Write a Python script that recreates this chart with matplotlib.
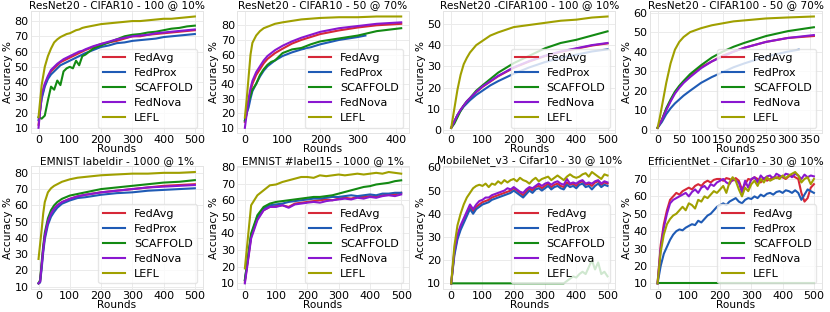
import numpy as np
import matplotlib
matplotlib.use("Agg")
import matplotlib.pyplot as plt
from matplotlib.ticker import MultipleLocator

methods = ["FedAvg", "FedProx", "SCAFFOLD", "FedNova", "LEFL"]
colors = ["#d62838", "#1f5bb5", "#138a13", "#8a17d0", "#a0a000"]

titles = ["ResNet20 - CIFAR10 - 100 @ 10%", "ResNet20 - CIFAR10 - 50 @ 70%",
          "ResNet20 -CIFAR100 - 100 @ 10%", "ResNet20 - CIFAR100 - 50 @ 70%",
          "EMNIST labeldir - 1000 @ 1%", "EMNIST #label15 - 1000 @ 1%",
          "MobileNet_v3 - Cifar10 - 30 @ 10%", "EfficientNet - Cifar10 - 30 @ 10%"]
xsteps = [100, 100, 100, 50, 100, 100, 100, 100]

# ---- panel 1: ResNet20 CIFAR10 100 @ 10%
x1 = [0, 10, 20, 30, 40, 50, 60, 70, 80, 90, 100, 110, 120, 130, 140, 150, 175, 200,
      225, 250, 275, 300, 325, 350, 375, 400, 425, 450, 475, 500]
p1_fedavg = [12, 30, 38, 43, 47, 49, 51, 53, 54, 55, 56, 57, 58, 59, 60, 61, 63, 65,
             66, 67, 68.5, 70, 70, 71, 71.5, 72, 72.5, 73, 73.5, 74]
p1_fedprox = [15, 29, 37, 42, 45, 47, 49, 51, 52, 53, 54, 55, 56, 57, 58, 59, 61, 63,
              64, 65.5, 66, 67, 67.5, 68, 68.5, 69.5, 70, 70.5, 71, 71.5]
p1_scaffold = [17, 16, 18, 28, 37, 35, 41, 38, 47, 49, 50, 49, 54, 51, 57, 58, 62, 64,
               66, 68, 70, 71, 71.5, 72.5, 73, 74, 75, 75.5, 76.5, 77]
p1_fednova = [10, 32, 39, 44, 48, 50, 52, 53.5, 55, 56, 57, 58, 59, 60, 60.5, 61.5, 63.5, 65,
              66.5, 68, 69, 70, 70.5, 71, 72, 72.5, 73, 73.5, 74, 74.5]
p1_lefl = [17, 38, 50, 57, 62, 66, 68, 69.5, 70.5, 71.5, 72, 73, 74, 74.5, 75.5, 76, 77, 78,
           78.5, 79, 79.5, 80, 80, 80.5, 81, 81.5, 81.5, 82, 82.5, 83]

# ---- panel 2: ResNet20 CIFAR10 50 @ 70%
x2 = [0, 5, 10, 15, 20, 30, 40, 50, 60, 70, 80, 100, 125, 150, 175, 200, 250, 300, 350, 415]
x2_prox = [0, 5, 10, 15, 20, 30, 40, 50, 60, 70, 80, 100, 125, 150, 175, 200, 250, 300, 320]
p2_fedavg = [14, 20, 28, 35, 40, 46, 50, 54, 57, 59, 61, 64, 67.5, 70, 72, 74, 76.5, 78.5, 80, 81]
p2_fedprox = [15, 20, 24, 30, 35, 40, 45, 49, 52, 54, 56, 59, 61.5, 63.5, 65, 67, 70, 72, 73]
p2_scaffold = [15, 22, 28, 32, 36, 40, 46, 50, 53, 55, 56, 61, 63.5, 64.5, 67, 69, 71, 73, 76, 78]
p2_fednova = [10, 20, 30, 37, 42, 48, 52, 56, 59, 61, 63, 66, 69, 71.5, 73.5, 75.5, 78, 79.5, 81, 82]
p2_lefl = [17, 30, 45, 60, 68, 73, 76, 78, 79, 80, 81, 82, 83, 84, 84.5, 85, 85.5, 85.5, 86, 86]

# ---- panel 3: ResNet20 CIFAR100 100 @ 10%
x3 = [0, 10, 20, 30, 40, 50, 60, 80, 100, 125, 150, 200, 250, 300, 350, 400, 450, 500]
p3_fedavg = [1, 4, 7, 9.5, 11.5, 13.3, 14.8, 17.8, 20.3, 22.8, 25.3, 29.3, 32.3, 34.8, 36.8, 38.3, 39.8, 40.8]
p3_fedprox = [1, 4, 7, 9, 11, 12.5, 14, 16.5, 18.5, 21, 23, 26.5, 29.5, 32, 34, 35.5, 37, 38]
p3_scaffold = [1, 3, 6, 9, 11.5, 13.5, 15, 18.5, 21, 24, 27, 31.5, 35, 38.5, 41, 42.5, 44.5, 46.5]
p3_fednova = [1, 4, 7, 9.5, 11.5, 13.5, 15, 18, 20.5, 23, 25.5, 29.5, 32.5, 35, 37, 38.5, 40, 41]
p3_lefl = [1, 10, 19, 26, 31, 34, 36.5, 40, 42, 44.5, 46, 48.5, 49.5, 50.5, 51.5, 52, 53, 53.5]

# ---- panel 4: ResNet20 CIFAR100 50 @ 70%
x4 = [0, 5, 10, 15, 20, 30, 40, 50, 60, 75, 100, 125, 150, 175, 200, 250, 300, 360]
x4_prox = [0, 5, 10, 15, 20, 30, 40, 50, 60, 75, 100, 125, 150, 175, 200, 250, 300, 325]
p4_fedavg = [1, 3, 5, 8, 10.5, 15, 19, 22, 24.5, 27.5, 32, 35, 38, 40, 42, 45, 47, 48]
p4_fedprox = [1, 2.5, 4, 6, 8, 11, 13.5, 15.5, 17.5, 20, 24, 27, 29.5, 32, 34, 37.5, 40, 41]
p4_scaffold = [1, 3, 5, 8, 11, 15.5, 19.5, 22.5, 25, 28.5, 33, 37, 40, 42.5, 44.5, 48, 50.5, 52.5]
p4_fednova = [1, 3, 5, 7.5, 10, 14.5, 18.5, 21.5, 24, 27, 31.5, 35, 37.5, 40, 42, 45, 47, 48.5]
p4_lefl = [1, 6, 12, 18, 24, 34, 41, 45, 47.5, 50, 52, 53.5, 54.5, 55.5, 56, 57, 57.5, 58]

# ---- panel 5: EMNIST labeldir
x5 = [0, 5, 10, 15, 20, 30, 40, 50, 60, 75, 100, 125, 150, 200, 250, 300, 350, 400, 450, 500]
p5_fedavg = [12, 13, 23, 33, 41, 50, 55, 58, 60, 62, 64, 65.5, 66.5, 68, 69, 70, 71, 72, 72.5, 73]
p5_fedprox = [12, 12.5, 21, 31, 39, 48, 53, 56, 58.5, 61, 63, 64.5, 65, 66.5, 67.5, 68, 69, 69.5, 70, 70.5]
p5_scaffold = [12, 14, 25, 35, 43, 52, 57, 60, 62, 64, 66, 67, 68, 70, 71, 72, 73, 74, 74.5, 75.5]
p5_fednova = [12, 13, 23, 33, 41, 50, 55, 58, 60, 62, 64, 65.5, 66.5, 68, 69, 70, 71, 71.5, 72, 72.5]
p5_lefl = [27, 36, 45, 55, 62, 68, 70.5, 72, 73, 74.5, 76, 77, 77.5, 78.5, 79, 79.5, 79.5, 80, 80, 80.5]

# ---- panel 6: EMNIST #label15 (every 20 rounds)
x6 = list(range(0, 501, 20))
p6_fedavg = [11, 38, 49, 54, 56, 56.5, 57, 56, 58, 58.5, 59, 59.5, 60, 60.5, 60, 61, 61.5, 61, 62, 62,
             62.5, 62, 63, 63.5, 63.5, 64.5]
p6_fedprox = [12, 39, 50, 55, 57, 57.5, 58, 59, 59.5, 60, 60.5, 61, 61, 61.5, 62, 62, 62.5, 63, 62.5, 63,
              63.5, 63, 64, 64, 64.5, 64.5]
p6_scaffold = [12, 40, 51, 56, 58, 59, 59.5, 60, 60.5, 61, 61.5, 62, 62, 62.5, 63, 64, 65, 66, 67, 68,
               68.5, 69.5, 70, 70.5, 71.5, 72]
p6_fednova = [10, 37, 48, 54, 56, 56, 57, 55.5, 57.5, 58, 58.5, 59, 58.5, 59.5, 60, 60.5, 61, 60.5, 61.5, 61,
              62, 61.5, 62.5, 63, 62.5, 63.5]
p6_lefl = [19, 57, 63, 66, 69, 69.5, 71, 72, 73, 74, 74, 73.5, 75, 74.5, 75, 75.5, 75, 75.5, 76, 75.5,
           76, 76.5, 76, 77, 76.5, 76]

# ---- panel 7: MobileNet_v3 (every 10 rounds)
x7 = list(range(0, 501, 10))
x7_scaffold = [0, 360, 370, 380, 390, 400, 410, 420, 430, 440, 450, 460, 470, 480, 490, 500]
p7_fedavg = [10, 23, 30, 34, 37, 40, 43, 41, 43, 44, 45, 45.5, 46, 47, 47.5, 48, 48.5, 49, 49.5, 50,
             51, 50, 49, 48, 49.5, 51, 50, 51.5, 52, 51, 52, 53, 51.5, 52.5, 53, 52, 51.5, 53.5, 52.5, 53,
             52, 53.5, 54, 52.5, 53, 52, 53.5, 54, 52.5, 53.5, 53]
p7_fedprox = [10, 22, 29, 33, 36, 39, 42, 40, 42, 43, 44, 44.5, 45, 46, 46.5, 47, 47.5, 48, 48.5, 49,
              50, 49, 48, 47, 48.5, 50, 49, 50.5, 51, 50, 51, 52, 50.5, 51.5, 52, 51, 50.5, 52.5, 51.5, 52,
              51, 52.5, 53, 51.5, 52, 50.5, 52, 53, 51.5, 52.5, 52]
p7_scaffold = [10, 10, 11, 12, 13, 12.5, 14, 15, 14, 17, 20, 16, 19, 14, 15, 13]
p7_fednova = [10, 24, 31, 35, 38, 41, 44, 42, 44, 45.5, 46, 47, 47, 48, 48.5, 49, 49.5, 50, 51, 50.5,
              51.5, 50.5, 49.5, 49, 50.5, 51.5, 51, 52, 53, 52, 53, 53.5, 52.5, 53.5, 54, 53, 52.5, 55, 53, 53.5,
              53, 54, 54.5, 53, 53.5, 53, 54, 54.5, 53, 54, 53.5]
p7_lefl = [10, 26, 35, 40, 44, 47, 49, 51, 52, 52.5, 52, 53, 51.5, 53, 52.5, 54, 53, 54.5, 53.5, 54.5,
           55, 54, 55.5, 54.5, 54, 53, 54.5, 55.5, 54, 55, 55.5, 56, 54.5, 55.5, 56.5, 55.5, 54.5, 56, 57, 56,
           55.5, 56, 57, 57.5, 56, 58, 57, 56, 55, 57, 56.5]

# ---- panel 8: EfficientNet (every 10 rounds)
x8 = list(range(0, 501, 10))
x8_scaffold = [0, 500]
p8_fedavg = [10, 32, 44, 52, 58, 60, 62, 61, 63, 64, 65, 64, 66, 67, 66, 68, 69, 68, 69.5, 70,
             70, 69, 70.5, 70, 69, 70.5, 69, 64, 67, 70, 69.5, 71, 70, 68, 70.5, 69, 70, 71, 70.5, 71.5,
             71, 70, 71.5, 72, 71, 70, 62, 57, 59, 65, 67]
p8_fedprox = [10, 20, 27, 31, 35, 38, 40, 41, 40.5, 42, 43, 44, 43.5, 46, 45, 47, 49, 50, 52, 54,
              55, 56, 55, 57, 58, 59, 57, 56, 58, 59, 58.5, 60, 59, 61, 60, 61.5, 62, 61, 62.5, 63,
              62, 63.5, 63, 62, 63.5, 62, 58, 61, 64, 63, 62]
p8_scaffold = [10, 10]
p8_fednova = [10, 30, 42, 50, 56, 58, 59, 60, 61, 62, 60, 62.5, 64, 62, 65, 66, 64, 67, 66, 68,
              69, 70, 68, 67, 70, 69, 68, 62, 69, 65, 70, 71, 68, 72, 70, 71.5, 72, 70, 73, 72,
              71, 73, 72.5, 71, 73, 72, 70, 72.5, 71, 72, 71.5]
p8_lefl = [10, 28, 38, 44, 47, 49, 50, 52, 54, 52, 56, 55, 53, 58, 57, 60, 59, 61, 63, 62,
           64, 66, 62, 68, 71, 69, 64, 60, 65, 63, 67, 69, 66, 70, 68, 71, 69, 70, 71, 70,
           72, 70.5, 72, 73, 74, 72, 68, 70, 71, 67, 70]

panels = [
    [(x1, p1_fedavg), (x1, p1_fedprox), (x1, p1_scaffold), (x1, p1_fednova), (x1, p1_lefl)],
    [(x2, p2_fedavg), (x2_prox, p2_fedprox), (x2, p2_scaffold), (x2, p2_fednova), (x2, p2_lefl)],
    [(x3, p3_fedavg), (x3, p3_fedprox), (x3, p3_scaffold), (x3, p3_fednova), (x3, p3_lefl)],
    [(x4, p4_fedavg), (x4_prox, p4_fedprox), (x4, p4_scaffold), (x4, p4_fednova), (x4, p4_lefl)],
    [(x5, p5_fedavg), (x5, p5_fedprox), (x5, p5_scaffold), (x5, p5_fednova), (x5, p5_lefl)],
    [(x6, p6_fedavg), (x6, p6_fedprox), (x6, p6_scaffold), (x6, p6_fednova), (x6, p6_lefl)],
    [(x7, p7_fedavg), (x7, p7_fedprox), (x7_scaffold, p7_scaffold), (x7, p7_fednova), (x7, p7_lefl)],
    [(x8, p8_fedavg), (x8, p8_fedprox), (x8_scaffold, p8_scaffold), (x8, p8_fednova), (x8, p8_lefl)],
]

plt.rcParams['font.family'] = ['DejaVu Sans']
fs = 7.6

fig, axes = plt.subplots(2, 4, figsize=(8.3, 3.12), dpi=100)
fig.subplots_adjust(left=0.037, right=0.99, bottom=0.074, top=0.965, wspace=0.2, hspace=0.27)

for ax, title, series, xs_step in zip(axes.flat, titles, panels, xsteps):
    for (xs, ys), name, c in zip(series, methods, colors):
        ax.plot(xs, ys, color=c, lw=1.5, label=name)
    ax.xaxis.set_major_locator(MultipleLocator(xs_step))
    ax.yaxis.set_major_locator(MultipleLocator(10))
    ax.set_title(title, fontsize=fs, pad=2)
    ax.set_xlabel("Rounds", fontsize=fs, labelpad=-1)
    ax.set_ylabel("Accuracy %", fontsize=fs, labelpad=1)
    ax.tick_params(labelsize=8, length=0, pad=1.5)
    ax.grid(True, color="#ebebeb", lw=0.7)
    for s in ax.spines.values():
        s.set_color("#e4e4e4")
        s.set_linewidth(0.7)
    ax.legend(loc="lower right", fontsize=8, handlelength=2.0, borderpad=0.4,
              labelspacing=0.45, framealpha=0.8, edgecolor="#e0e0e0")

fig.savefig("out.png", dpi=100)
